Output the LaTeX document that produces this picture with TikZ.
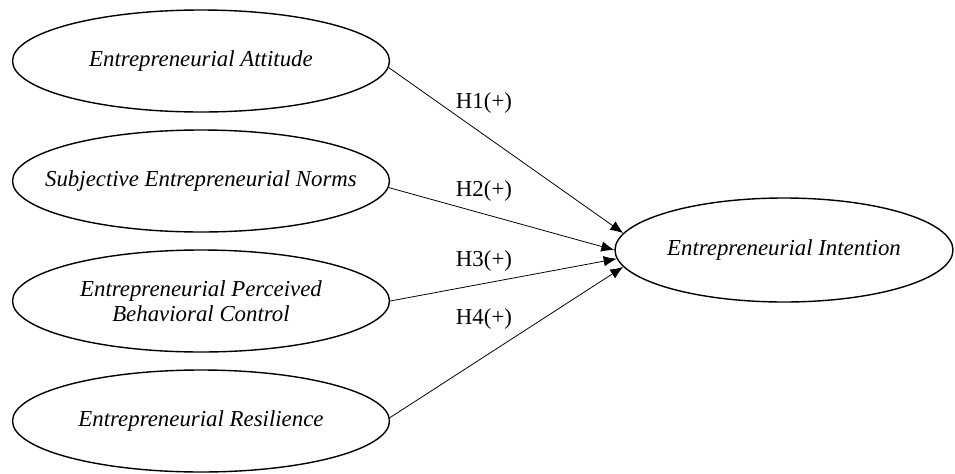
\documentclass[tikz,border=0pt]{standalone}
\usepackage{fontspec}
\setmainfont{Liberation Serif}
\usetikzlibrary{shapes.geometric,arrows.meta}
\tikzset{
    construct/.style={draw,ellipse,line width=0.8pt,inner xsep=-1.5cm,inner ysep=0pt,
        minimum width=7.54cm,minimum height=2.04cm,align=center,
        font=\fontsize{13}{14.5}\selectfont\itshape},
    hyparrow/.style={->,line width=0.45pt},
    hyplabel/.style={font=\fontsize{13}{14.5}\selectfont},
    >={Latex[length=2.6mm,width=2.1mm]}
}

\begin{document}
\begin{tikzpicture}
    \useasboundingbox (0,0) rectangle (19.1,-9.46);
    % predictors
    \node[construct] (Attitude) at (4.02,-1.22) {Entrepreneurial Attitude};
    \node[construct] (Norms) at (4.02,-3.62) {Subjective Entrepreneurial Norms};
    \node[construct] (Control) at (4.02,-6.02) {Entrepreneurial Perceived\\Behavioral Control};
    \node[construct] (Resilience) at (4.02,-8.42) {Entrepreneurial Resilience};
    % outcome
    \node[construct,minimum width=6.76cm,minimum height=2.08cm] (Intention) at (15.68,-5.0) {Entrepreneurial Intention};
    % hypotheses
    \foreach \src/\a/\b in {Attitude/-2/174, Norms/-2/180, Control/0/183, Resilience/1/186}
        \draw[hyparrow] (\src.\a) -- (Intention.\b);
    \node[hyplabel] (H1) at (9.68,-2.06) {H1(+)};
    \node[hyplabel] (H2) at (9.68,-3.82) {H2(+)};
    \node[hyplabel] (H3) at (9.68,-5.22) {H3(+)};
    \node[hyplabel] (H4) at (9.68,-6.38) {H4(+)};
\end{tikzpicture}
\end{document}
